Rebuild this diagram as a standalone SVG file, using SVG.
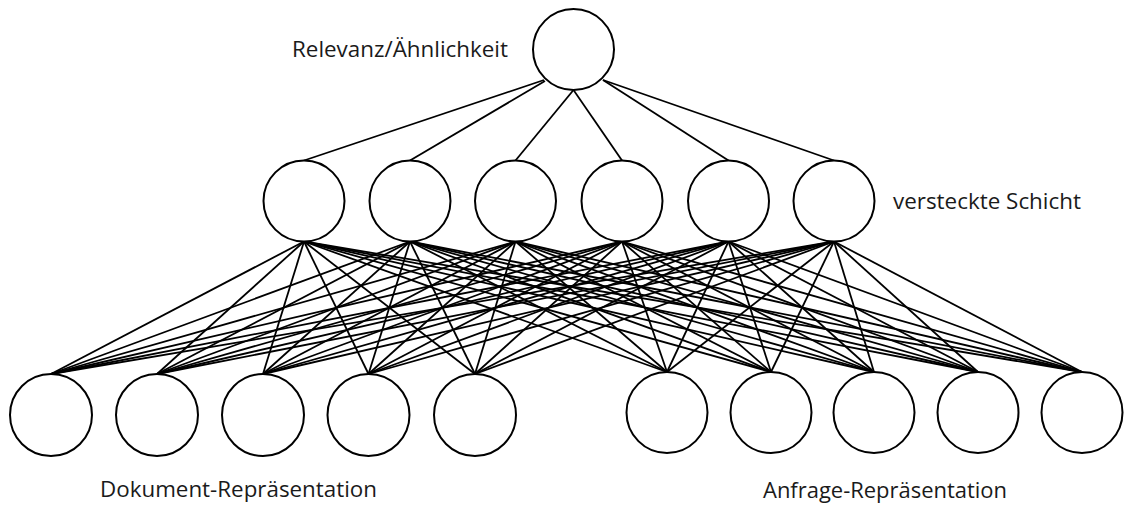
<svg xmlns="http://www.w3.org/2000/svg" width="1135" height="510" viewBox="0 0 1135 510">
<style>
.n{fill:#fff;stroke:#000;stroke-width:2}
.c line{stroke:#000;stroke-width:1.8}
.t{font-family:"Open Sans","Liberation Sans",sans-serif;font-size:21.5px;fill:#1a1a1a}
</style>
<rect width="1135" height="510" fill="#fff"/>
<g id="connectors" class="c">
<line x1="544" y1="80" x2="304" y2="160.5"/>
<line x1="545" y1="81" x2="410" y2="160.5"/>
<line x1="573.5" y1="90" x2="515.5" y2="160.5"/>
<line x1="573.5" y1="90" x2="622" y2="160.5"/>
<line x1="603" y1="80" x2="728.5" y2="160.5"/>
<line x1="603" y1="80" x2="834" y2="160.5"/>
<g id="h-to-b">
<line x1="304" y1="241.5" x2="51" y2="374"/><line x1="304" y1="241.5" x2="157" y2="374"/><line x1="304" y1="241.5" x2="263" y2="374"/><line x1="304" y1="241.5" x2="368.5" y2="374"/><line x1="304" y1="241.5" x2="475" y2="374"/><line x1="304" y1="241.5" x2="667" y2="372"/><line x1="304" y1="241.5" x2="771" y2="372"/><line x1="304" y1="241.5" x2="874" y2="372"/><line x1="304" y1="241.5" x2="978" y2="372"/><line x1="304" y1="241.5" x2="1082" y2="372"/>
<line x1="410" y1="241.5" x2="51" y2="374"/><line x1="410" y1="241.5" x2="157" y2="374"/><line x1="410" y1="241.5" x2="263" y2="374"/><line x1="410" y1="241.5" x2="368.5" y2="374"/><line x1="410" y1="241.5" x2="475" y2="374"/><line x1="410" y1="241.5" x2="667" y2="372"/><line x1="410" y1="241.5" x2="771" y2="372"/><line x1="410" y1="241.5" x2="874" y2="372"/><line x1="410" y1="241.5" x2="978" y2="372"/><line x1="410" y1="241.5" x2="1082" y2="372"/>
<line x1="515.5" y1="241.5" x2="51" y2="374"/><line x1="515.5" y1="241.5" x2="157" y2="374"/><line x1="515.5" y1="241.5" x2="263" y2="374"/><line x1="515.5" y1="241.5" x2="368.5" y2="374"/><line x1="515.5" y1="241.5" x2="475" y2="374"/><line x1="515.5" y1="241.5" x2="667" y2="372"/><line x1="515.5" y1="241.5" x2="771" y2="372"/><line x1="515.5" y1="241.5" x2="874" y2="372"/><line x1="515.5" y1="241.5" x2="978" y2="372"/><line x1="515.5" y1="241.5" x2="1082" y2="372"/>
<line x1="622" y1="241.5" x2="51" y2="374"/><line x1="622" y1="241.5" x2="157" y2="374"/><line x1="622" y1="241.5" x2="263" y2="374"/><line x1="622" y1="241.5" x2="368.5" y2="374"/><line x1="622" y1="241.5" x2="475" y2="374"/><line x1="622" y1="241.5" x2="667" y2="372"/><line x1="622" y1="241.5" x2="771" y2="372"/><line x1="622" y1="241.5" x2="874" y2="372"/><line x1="622" y1="241.5" x2="978" y2="372"/><line x1="622" y1="241.5" x2="1082" y2="372"/>
<line x1="728.5" y1="241.5" x2="51" y2="374"/><line x1="728.5" y1="241.5" x2="157" y2="374"/><line x1="728.5" y1="241.5" x2="263" y2="374"/><line x1="728.5" y1="241.5" x2="368.5" y2="374"/><line x1="728.5" y1="241.5" x2="475" y2="374"/><line x1="728.5" y1="241.5" x2="667" y2="372"/><line x1="728.5" y1="241.5" x2="771" y2="372"/><line x1="728.5" y1="241.5" x2="874" y2="372"/><line x1="728.5" y1="241.5" x2="978" y2="372"/><line x1="728.5" y1="241.5" x2="1082" y2="372"/>
<line x1="834" y1="241.5" x2="51" y2="374"/><line x1="834" y1="241.5" x2="157" y2="374"/><line x1="834" y1="241.5" x2="263" y2="374"/><line x1="834" y1="241.5" x2="368.5" y2="374"/><line x1="834" y1="241.5" x2="475" y2="374"/><line x1="834" y1="241.5" x2="667" y2="372"/><line x1="834" y1="241.5" x2="771" y2="372"/><line x1="834" y1="241.5" x2="874" y2="372"/><line x1="834" y1="241.5" x2="978" y2="372"/><line x1="834" y1="241.5" x2="1082" y2="372"/>
</g>
</g>
<g id="output"><circle class="n" cx="573.5" cy="49.5" r="40.5"/></g>
<g id="hidden1"><circle class="n" cx="304" cy="201" r="40.5"/></g>
<g id="hidden2"><circle class="n" cx="410" cy="201" r="40.5"/></g>
<g id="hidden3"><circle class="n" cx="515.5" cy="201" r="40.5"/></g>
<g id="hidden4"><circle class="n" cx="622" cy="201" r="40.5"/></g>
<g id="hidden5"><circle class="n" cx="728.5" cy="201" r="40.5"/></g>
<g id="hidden6"><circle class="n" cx="834" cy="201" r="40.5"/></g>
<g id="doc1"><circle class="n" cx="51" cy="415" r="41"/></g>
<g id="doc2"><circle class="n" cx="157" cy="415" r="41"/></g>
<g id="doc3"><circle class="n" cx="263" cy="415" r="41"/></g>
<g id="doc4"><circle class="n" cx="368.5" cy="415" r="41"/></g>
<g id="doc5"><circle class="n" cx="475" cy="415" r="41"/></g>
<g id="q1"><circle class="n" cx="667" cy="412.5" r="40.5"/></g>
<g id="q2"><circle class="n" cx="771" cy="412.5" r="40.5"/></g>
<g id="q3"><circle class="n" cx="874" cy="412.5" r="40.5"/></g>
<g id="q4"><circle class="n" cx="978" cy="412.5" r="40.5"/></g>
<g id="q5"><circle class="n" cx="1082" cy="412.5" r="40.5"/></g>
<g id="labels">
<text class="t" x="292" y="57" textLength="216" lengthAdjust="spacingAndGlyphs">Relevanz/Ähnlichkeit</text>
<text class="t" x="893" y="209" textLength="188" lengthAdjust="spacingAndGlyphs">versteckte Schicht</text>
<text class="t" x="100" y="497" textLength="277" lengthAdjust="spacingAndGlyphs">Dokument-Repräsentation</text>
<text class="t" x="763" y="498" textLength="244" lengthAdjust="spacingAndGlyphs">Anfrage-Repräsentation</text>
</g>
</svg>
